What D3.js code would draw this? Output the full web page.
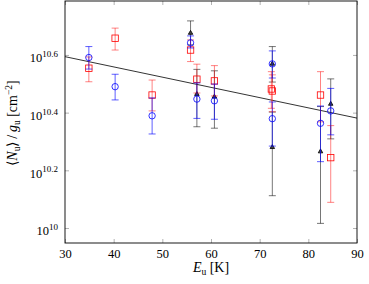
<!DOCTYPE html>
<html><head><meta charset="utf-8">
<script src="https://cdn.jsdelivr.net/npm/d3@7"></script>
<style>
html,body{margin:0;padding:0;background:#fff;}
svg{display:block;}
</style></head>
<body>
<svg id="c" width="369" height="284"></svg>
<script>
// Energies of upper level (K), and log10(<N_u>/g_u) values with error bounds
const blueE    = [34.9, 40.3, 47.9, 55.8, 57.1, 60.7, 72.6, 72.6, 82.5, 84.6];
const blueVal  = [10.591, 10.490, 10.389, 10.642, 10.447, 10.441, 10.569, 10.379, 10.363, 10.406];
const blueHi   = [10.629, 10.533, 10.451, 10.666, 10.503, 10.499, 10.614, 10.437, 10.423, 10.484];
const blueLo   = [10.551, 10.444, 10.326, 10.624, 10.380, 10.377, 10.520, 10.284, 10.230, 10.323];

const redE     = [34.9, 40.3, 47.9, 55.8, 57.1, 60.7, 72.4, 72.6, 82.5, 84.6];
const redVal   = [10.554, 10.658, 10.461, 10.617, 10.516, 10.510, 10.482, 10.475, 10.461, 10.244];
const redHi    = [10.593, 10.693, 10.513, 10.652, 10.568, 10.563, 10.542, 10.531, 10.542, 10.355];
const redLo    = [10.507, 10.617, 10.406, 10.577, 10.468, 10.458, 10.415, 10.403, 10.368, 10.089];

const blackE   = [55.8, 57.1, 60.7, 72.6, 72.6, 82.5, 84.6];
const blackVal = [10.676, 10.464, 10.455, 10.569, 10.280, 10.265, 10.430];
const blackHi  = [10.718, 10.550, 10.545, 10.629, 10.402, 10.421, 10.517];
const blackLo  = [10.635, 10.351, 10.346, 10.506, 10.112, 10.016, 10.309];

const fitE     = [30, 90];
const fitVal   = [10.594, 10.381];

const xTicks   = [30, 40, 50, 60, 70, 80, 90];
const yTicks   = [10.0, 10.2, 10.4, 10.6];
const yTickLabels = ["10", "10.2", "10.4", "10.6"];

const FONT = '"Liberation Serif", "Times New Roman", serif';
const svg = d3.select("#c").style("font-family", FONT);
const L = 65, R = 357, T = 1, B = 243;
const x = d3.scaleLinear().domain([30, 90]).range([L, R]);
const y = d3.scaleLinear().domain([9.948, 10.787]).range([B, T]);

const tickCol = "#a0a0a0";
const gx = svg.append("g").attr("transform", `translate(0,${B})`)
  .call(d3.axisBottom(x).tickValues(xTicks).tickSize(-4).tickPadding(6).tickFormat(d3.format("d")));
const gxTop = svg.append("g").attr("transform", `translate(0,${T})`)
  .call(d3.axisTop(x).tickValues(xTicks).tickSize(-4).tickFormat(""));
const gy = svg.append("g").attr("transform", `translate(${L},0)`)
  .call(d3.axisLeft(y).tickValues(yTicks).tickSize(-4).tickPadding(7).tickFormat(""));
const gyR = svg.append("g").attr("transform", `translate(${R},0)`)
  .call(d3.axisRight(y).tickValues(yTicks).tickSize(-4).tickFormat(""));
[gx, gxTop, gy, gyR].forEach(g => {
  g.attr("font-family", null).style("font-family", FONT);
  g.select(".domain").remove();
  g.selectAll(".tick line").attr("stroke", tickCol).attr("stroke-width", 0.8);
});
gx.selectAll(".tick text").attr("font-size", 12.5).attr("fill", "#000").style("font-family", FONT);

gy.selectAll(".tick").each(function(d, i) {
  const t = d3.select(this).select("text")
    .attr("fill", "#000").attr("font-size", 12.5).attr("dy", "0.55em").style("font-family", FONT).text(null);
  t.append("tspan").text("10");
  t.append("tspan").attr("font-size", 9).attr("dy", -5.5).text(yTickLabels[i]);
});

svg.append("rect").attr("x", L).attr("y", T).attr("width", R - L).attr("height", B - T)
  .attr("fill", "none").attr("stroke", "#000").attr("stroke-width", 0.9);

const line = d3.line().x((d, i) => x(fitE[i])).y(d => y(d));
svg.append("path").datum(fitVal).attr("d", line)
  .attr("fill", "none").attr("stroke", "#000").attr("stroke-width", 0.8);

function drawSeries(E, V, Hi, Lo, color, marker, op) {
  const g = svg.append("g");
  const pts = E.map((e, i) => ({e, v: V[i], hi: Hi[i], lo: Lo[i]}));
  const eb = g.append("g").attr("stroke", color).attr("stroke-width", 0.9).attr("stroke-opacity", op);
  pts.forEach(p => {
    eb.append("line").attr("x1", x(p.e)).attr("x2", x(p.e)).attr("y1", y(p.hi)).attr("y2", y(p.lo));
    eb.append("line").attr("x1", x(p.e) - 3.5).attr("x2", x(p.e) + 3.5).attr("y1", y(p.hi)).attr("y2", y(p.hi));
    eb.append("line").attr("x1", x(p.e) - 3.5).attr("x2", x(p.e) + 3.5).attr("y1", y(p.lo)).attr("y2", y(p.lo));
  });
  pts.forEach(p => {
    const cx = x(p.e), cy = y(p.v);
    if (marker === "circle") {
      g.append("circle").attr("cx", cx).attr("cy", cy).attr("r", 3.2)
        .attr("fill", "none").attr("stroke", color).attr("stroke-width", 0.8);
    } else if (marker === "square") {
      g.append("rect").attr("x", cx - 3.2).attr("y", cy - 3.2).attr("width", 6.4).attr("height", 6.4)
        .attr("fill", "none").attr("stroke", color).attr("stroke-width", 0.8);
    } else {
      const s = 2.6;
      g.append("path").attr("d", `M${cx},${cy - s}L${cx + s * 0.87},${cy + s * 0.5}L${cx - s * 0.87},${cy + s * 0.5}Z`)
        .attr("fill", "#444").attr("stroke", color).attr("stroke-width", 0.8);
    }
  });
}
drawSeries(blackE, blackVal, blackHi, blackLo, "#000", "triangle", 0.6);
drawSeries(redE, redVal, redHi, redLo, "#ff0000", "square", 0.55);
drawSeries(blueE, blueVal, blueHi, blueLo, "#0000ff", "circle", 0.7);

const xl = svg.append("text").attr("x", 211).attr("y", 272).attr("text-anchor", "middle")
  .attr("font-size", 14).style("font-family", FONT);
xl.append("tspan").attr("font-style", "italic").text("E");
xl.append("tspan").attr("font-size", 9.5).attr("dy", 2.5).text("u");
xl.append("tspan").attr("dy", -2.5).text(" [K]");

const yl = svg.append("text").attr("transform", "translate(17,123) rotate(-90)")
  .attr("text-anchor", "middle").attr("font-size", 14).style("font-family", FONT);
yl.append("tspan").text("⟨");
yl.append("tspan").attr("font-style", "italic").text("N");
yl.append("tspan").attr("font-size", 9.5).attr("dy", 2.5).text("u");
yl.append("tspan").attr("dy", -2.5).text("⟩\u2009/\u2009");
yl.append("tspan").attr("font-style", "italic").text("g");
yl.append("tspan").attr("font-size", 9.5).attr("dy", 2.5).text("u");
yl.append("tspan").attr("dy", -2.5).text(" [cm");
yl.append("tspan").attr("font-size", 9.5).attr("dy", -5).text("−2");
yl.append("tspan").attr("dy", 5).text("]");
</script>
</body></html>
